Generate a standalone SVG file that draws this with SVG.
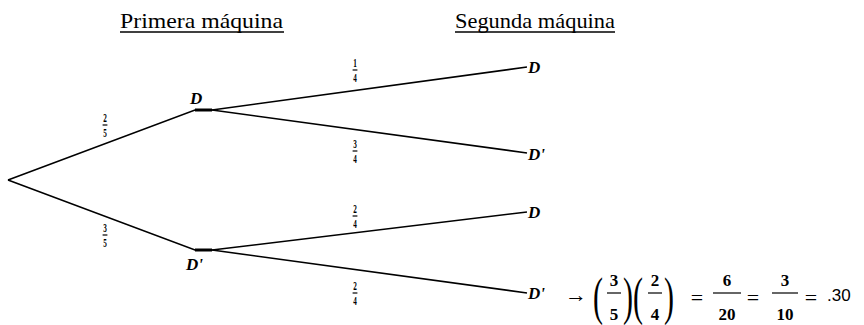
<svg xmlns="http://www.w3.org/2000/svg" width="864" height="325" viewBox="0 0 864 325">
<style>
.t{font-family:"Liberation Serif",serif;font-size:22px;fill:#000}
.n{font-family:"Liberation Serif",serif;font-size:17px;font-style:italic;font-weight:bold;fill:#000}
.f{font-family:"Liberation Serif",serif;font-size:12px;font-weight:bold;fill:#000;text-anchor:middle}
.m{font-family:"Liberation Serif",serif;font-size:17px;font-weight:bold;fill:#000;text-anchor:middle}
.q{font-family:"Liberation Serif",serif;font-size:22px;fill:#000;text-anchor:middle}
.p{font-family:"Liberation Serif",serif;font-size:30px;fill:#000;text-anchor:middle}
.e{stroke:#000;stroke-width:1.6;fill:none}
.fl{stroke:#000;stroke-width:1.2}
</style>
<rect width="864" height="325" fill="#fff"/>
<g id="titles">
<text class="t" x="120" y="28" textLength="163" lengthAdjust="spacingAndGlyphs">Primera máquina</text>
<line x1="120" y1="32" x2="284" y2="32" stroke="#000" stroke-width="1.3"/>
<text class="t" x="455" y="28" textLength="160" lengthAdjust="spacingAndGlyphs">Segunda máquina</text>
<line x1="455" y1="32" x2="615" y2="32" stroke="#000" stroke-width="1.3"/>
</g>
<g id="connectors">
<path class="e" d="M8 180 L195 110 L212 110"/>
<path class="e" d="M8 180 L195 250 L212 250"/>
<path class="e" d="M212 110 L527 67"/>
<path class="e" d="M212 110 L527 153"/>
<path class="e" d="M212 250 L527 212"/>
<path class="e" d="M212 250 L527 293"/>
<line x1="195" y1="110" x2="212" y2="110" stroke="#000" stroke-width="3"/>
<line x1="195" y1="250" x2="212" y2="250" stroke="#000" stroke-width="3"/>
</g>
<g id="edge-labels">
<g transform="translate(105,112) scale(0.6,1)"><text class="f" x="0" y="10">2</text><line class="fl" x1="-4" y1="13" x2="4" y2="13"/><text class="f" x="0" y="25">5</text></g>
<g transform="translate(105,222) scale(0.6,1)"><text class="f" x="0" y="10">3</text><line class="fl" x1="-4" y1="13" x2="4" y2="13"/><text class="f" x="0" y="25">5</text></g>
<g transform="translate(355,57) scale(0.6,1)"><text class="f" x="0" y="10">1</text><line class="fl" x1="-4" y1="13" x2="4" y2="13"/><text class="f" x="0" y="25">4</text></g>
<g transform="translate(355,138) scale(0.6,1)"><text class="f" x="0" y="10">3</text><line class="fl" x1="-4" y1="13" x2="4" y2="13"/><text class="f" x="0" y="25">4</text></g>
<g transform="translate(355,203) scale(0.6,1)"><text class="f" x="0" y="10">2</text><line class="fl" x1="-4" y1="13" x2="4" y2="13"/><text class="f" x="0" y="25">4</text></g>
<g transform="translate(355,280) scale(0.6,1)"><text class="f" x="0" y="10">2</text><line class="fl" x1="-4" y1="13" x2="4" y2="13"/><text class="f" x="0" y="25">4</text></g>
</g>
<g id="node-D1"><text class="n" x="190" y="104">D</text></g>
<g id="node-D1p"><text class="n" x="186" y="270">D'</text></g>
<g id="node-DD"><text class="n" x="528" y="73">D</text></g>
<g id="node-DDp"><text class="n" x="528" y="160">D'</text></g>
<g id="node-DpD"><text class="n" x="528" y="218">D</text></g>
<g id="node-DpDp"><text class="n" x="528" y="299">D'</text></g>
<g id="formula">
<text class="q" x="576" y="302">→</text>
<g transform="translate(0,300) scale(1,1.75)"><text class="p" x="598" y="8">(</text><text class="p" x="628" y="8">)</text><text class="p" x="638" y="8">(</text><text class="p" x="669" y="8">)</text></g>
<text class="m" x="614" y="286">3</text><line class="fl" x1="607" y1="293" x2="621" y2="293" stroke-width="1.5"/><text class="m" x="614" y="320">5</text>
<text class="m" x="655" y="286">2</text><line class="fl" x1="648" y1="293" x2="662" y2="293" stroke-width="1.5"/><text class="m" x="655" y="320">4</text>
<text class="q" x="697" y="305">=</text>
<text class="m" x="727" y="286">6</text><line class="fl" x1="713" y1="293" x2="741" y2="293" stroke-width="1.5"/><text class="m" x="727" y="320">20</text>
<text class="q" x="753" y="305">=</text>
<text class="m" x="785" y="286">3</text><line class="fl" x1="772" y1="293" x2="798" y2="293" stroke-width="1.5"/><text class="m" x="785" y="320">10</text>
<text class="q" x="811" y="305">=</text>
<text x="827" y="301" style="font-family:'Liberation Sans',sans-serif;font-size:17px">.30</text>
</g>
</svg>
